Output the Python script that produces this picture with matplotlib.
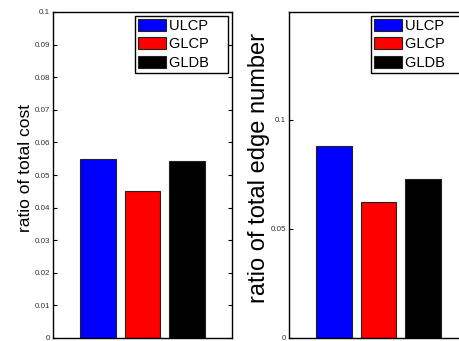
import numpy as np
import matplotlib
matplotlib.use("Agg")
import matplotlib.pyplot as plt

plt.rcParams['font.family'] = ['Liberation Sans', 'DejaVu Sans']

methods = ["ULCP", "GLCP", "GLDB"]
colors = ["#0000ff", "#ff0000", "#000000"]
cost_ratio = [0.0548, 0.0452, 0.0542]
edge_ratio = [0.0881, 0.0625, 0.0729]

cost_ticks = np.arange(0, 0.1001, 0.01)
edge_ticks = [0, 0.05, 0.1]

fig = plt.figure(figsize=(4.6, 3.41), dpi=100)
ax1 = fig.add_axes([53 / 460, 3 / 341, 179 / 460, 326 / 341])
ax2 = fig.add_axes([289 / 460, 3 / 341, 179 / 460, 326 / 341])


def draw(ax, vals, ticks, ylim, ylabel, label_size, label_x):
    x = np.arange(1, len(vals) + 1)
    bars = ax.bar(x, vals, width=0.8, color=colors, edgecolor='#222222', linewidth=0.8)
    ax.set_xlim(0, 4)
    ax.set_ylim(*ylim)
    ax.set_xticks([])
    ax.set_yticks(ticks)
    ax.set_yticklabels(['%g' % round(t, 2) for t in ticks])
    ax.tick_params(axis='y', direction='in', length=3, width=0.8, labelsize=5.8,
                   pad=2, right=True, colors='black', labelcolor='#333333')
    for s in ax.spines.values():
        s.set_linewidth(1.0)
    ax.set_ylabel(ylabel, fontsize=label_size)
    ax.yaxis.set_label_coords(label_x, 0.52)
    # trailing spaces give the wide MATLAB-style legend box
    leg = ax.legend(bars, [m + "    " for m in methods], loc='upper right', fontsize=10.5,
                    fancybox=False, framealpha=1, edgecolor='black',
                    handlelength=1.9, handleheight=0.9, handletextpad=0.2,
                    labelspacing=0.3, borderpad=0.22, borderaxespad=0.25)
    leg.get_frame().set_linewidth(1.0)


draw(ax1, cost_ratio, cost_ticks, (0, 0.1), "ratio of total cost", 12.5, -0.112)
draw(ax2, edge_ratio, edge_ticks, (0, 0.1495), "ratio of total edge number", 17, -0.106)

fig.savefig("out.png", dpi=100)
